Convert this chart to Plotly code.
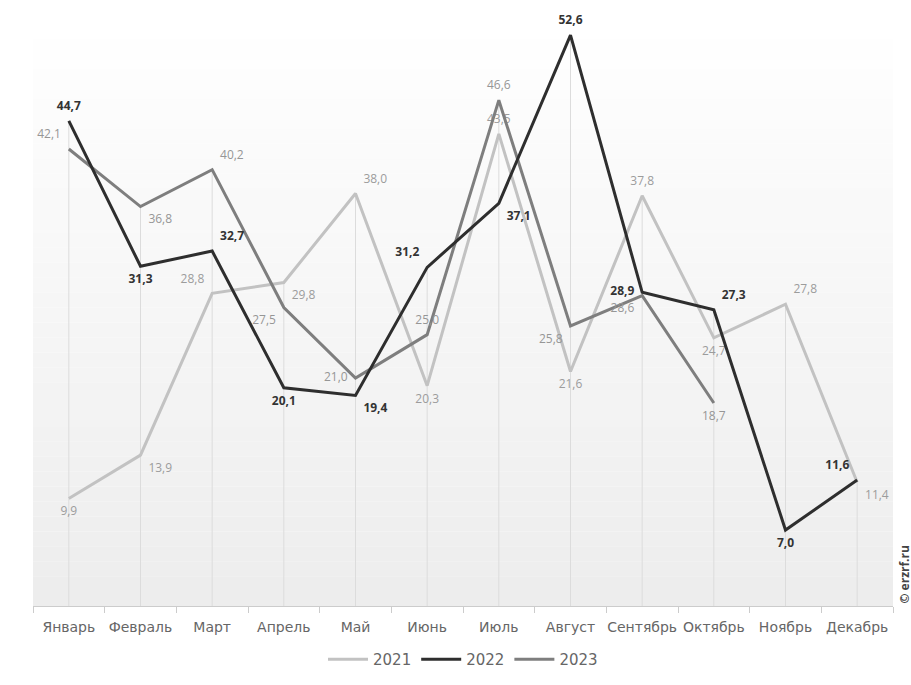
import plotly.graph_objects as go

months = ["Январь", "Февраль", "Март", "Апрель", "Май", "Июнь",
          "Июль", "Август", "Сентябрь", "Октябрь", "Ноябрь", "Декабрь"]

v2021 = [9.9, 13.9, 28.8, 29.8, 38.0, 20.3, 43.5, 21.6, 37.8, 24.7, 27.8, 11.4]
v2022 = [44.7, 31.3, 32.7, 20.1, 19.4, 31.2, 37.1, 52.6, 28.9, 27.3, 7.0, 11.6]
v2023 = [42.1, 36.8, 40.2, 27.5, 21.0, 25.0, 46.6, 25.8, 28.6, 18.7]

# label placement per point
pos2021 = ["bottom center", "bottom right", "top left", "bottom right", "top right",
           "bottom center", "top center", "bottom center", "top center",
           "bottom center", "top right", "bottom right"]
pos2022 = ["top center", "bottom center", "top right", "bottom center", "bottom right",
           "top left", "bottom right", "top center", "middle left", "top right",
           "bottom center", "top left"]
pos2023 = ["top left", "bottom right", "top right", "bottom left", "middle left",
           "top center", "top center", "bottom left", "bottom left", "bottom center"]


def fmt(vals):
    return [f"{v:.1f}".replace(".", ",") for v in vals]


# invisible markers only widen the gap between a point and its label
ghost = dict(size=11, color="rgba(0,0,0,0)", line=dict(width=0))

fig = go.Figure()

# vertical drop lines from the highest value of each month to the axis
gx, gy = [], []
for i, m in enumerate(months):
    vals = [s[i] for s in (v2021, v2022, v2023) if i < len(s)]
    gx += [m, m, None]
    gy += [0, max(vals), None]
fig.add_trace(go.Scatter(x=gx, y=gy, mode="lines", line=dict(color="#dcdcdc", width=1),
                         showlegend=False, hoverinfo="skip"))

fig.add_trace(go.Scatter(
    x=months, y=v2021, name="2021", mode="lines+markers+text", text=fmt(v2021),
    textposition=pos2021, textfont=dict(size=12, color="#9c9c9c", family="Open Sans"),
    line=dict(color="#c2c2c2", width=3), marker=ghost, legendrank=1, cliponaxis=False))
fig.add_trace(go.Scatter(
    x=months[:len(v2023)], y=v2023, name="2023", mode="lines+markers+text",
    text=fmt(v2023), textposition=pos2023,
    textfont=dict(size=12, color="#969696", family="Open Sans"),
    line=dict(color="#7e7e7e", width=3), marker=ghost, legendrank=3, cliponaxis=False))
fig.add_trace(go.Scatter(
    x=months, y=v2022, name="2022", mode="lines+markers+text", text=fmt(v2022),
    textposition=pos2022,
    textfont=dict(size=12, color="#333333", family="Open Sans", weight="bold"),
    line=dict(color="#2e2e2e", width=3), marker=ghost, legendrank=2, cliponaxis=False))

# soft vertical gradient behind the plot
bands = 40
shapes = []
for k in range(bands):
    t = k / (bands - 1)
    g = int(round(255 - t * 18))
    shapes.append(dict(type="rect", xref="x domain", yref="y domain",
                       x0=0, x1=1, y0=1 - (k + 1) / bands, y1=1 - k / bands,
                       fillcolor=f"rgb({g},{g},{g})", line=dict(width=0), layer="below"))

fig.update_layout(
    width=911, height=685,
    margin=dict(l=33, r=18, t=9, b=79, autoexpand=False),
    paper_bgcolor="white", plot_bgcolor="white",
    shapes=shapes,
    font=dict(family="Open Sans", color="#666666"),
    showlegend=True,
    legend=dict(orientation="h", x=0.5, xanchor="center", y=-0.062, yanchor="top",
                font=dict(size=15, color="#666666", family="DejaVu Sans"), itemwidth=40),
    xaxis=dict(type="category", range=[-0.5, 11.5], showgrid=False, showline=True,
               linecolor="#cccccc", linewidth=1, ticks="outside", tickson="boundaries",
               ticklen=6, tickcolor="#cccccc", tickangle=0, automargin=False,
               ticklabelstandoff=8,
               tickfont=dict(size=14, color="#666666", family="DejaVu Sans"),
               zeroline=False),
    yaxis=dict(range=[0, 55], visible=False, showgrid=False, zeroline=False,
               automargin=False),
    annotations=[dict(text="© erzrf.ru", xref="paper", yref="paper", x=1.0, y=0,
                      xanchor="left", yanchor="bottom", xshift=0, textangle=-90,
                      showarrow=False, font=dict(size=12, color="#444444",
                                                 family="Open Sans", weight="bold"))],
)

fig.write_html("out.html")
